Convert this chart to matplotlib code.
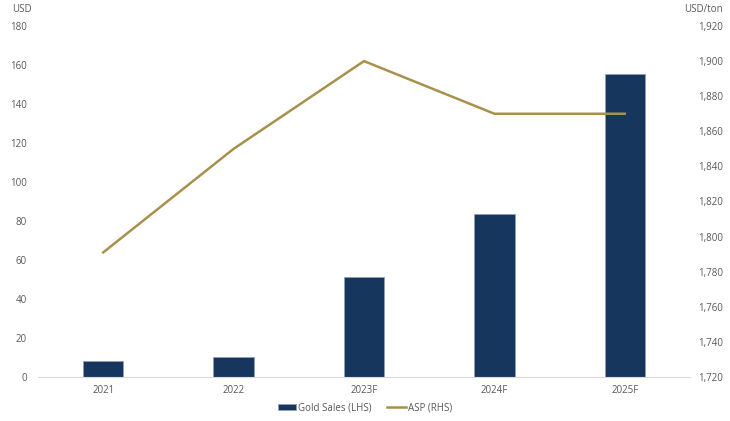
import matplotlib.pyplot as plt
import numpy as np

plt.rcParams['font.family'] = ['Open Sans', 'DejaVu Sans']

years = ["2021", "2022", "2023F", "2024F", "2025F"]
gold_sales = [8.2, 10.3, 51.3, 83.6, 155.4]
asp = [1791, 1850, 1900, 1870, 1870]

navy = '#17365d'
gold = '#a8914b'
grey = '#595959'

fig = plt.figure(figsize=(7.3, 4.21), dpi=100)
ax = fig.add_axes([38 / 730, 1 - 377 / 421, 652 / 730, 351 / 421])
x = np.arange(len(years))

ax.bar(x, gold_sales, 0.31, color=navy, edgecolor='#8ea0b8', linewidth=0.6,
       label='Gold Sales (LHS)', zorder=2)
ax.set_xlim(-0.5, len(years) - 0.5)
ax.set_ylim(0, 180)
ax.set_yticks(np.arange(0, 181, 20))
ax.set_xticks(x, years)

ax2 = ax.twinx()
ax2.plot(x, asp, color=gold, linewidth=1.8, label='ASP (RHS)', zorder=3)
ax2.set_ylim(1720, 1920)
ax2.set_yticks(np.arange(1720, 1921, 20))
ax2.set_yticklabels([f'{v:,}' for v in range(1720, 1921, 20)])

for a in (ax, ax2):
    for s in a.spines.values():
        s.set_visible(False)
    a.tick_params(length=0, labelsize=7, colors=grey)
ax.spines['bottom'].set_visible(True)
ax.spines['bottom'].set_color('#d9d9d9')
ax.tick_params(axis='y', pad=8)
ax2.tick_params(axis='y', pad=6)
ax.tick_params(axis='x', pad=6)

fig.text(22 / 730, 1 - 10 / 421, 'USD', fontsize=7, color=grey, ha='center', va='center')
fig.text(703 / 730, 1 - 10 / 421, 'USD/ton', fontsize=7, color=grey, ha='center', va='center')

h1, l1 = ax.get_legend_handles_labels()
h2, l2 = ax2.get_legend_handles_labels()
fig.legend(h1 + h2, l1 + l2, loc='center', bbox_to_anchor=(0.5, 1 - 408 / 421),
           ncols=2, frameon=False, fontsize=7, labelcolor=grey,
           handlelength=1.9, handleheight=0.6, columnspacing=1.6, handletextpad=0.2)

plt.savefig('out.png')
